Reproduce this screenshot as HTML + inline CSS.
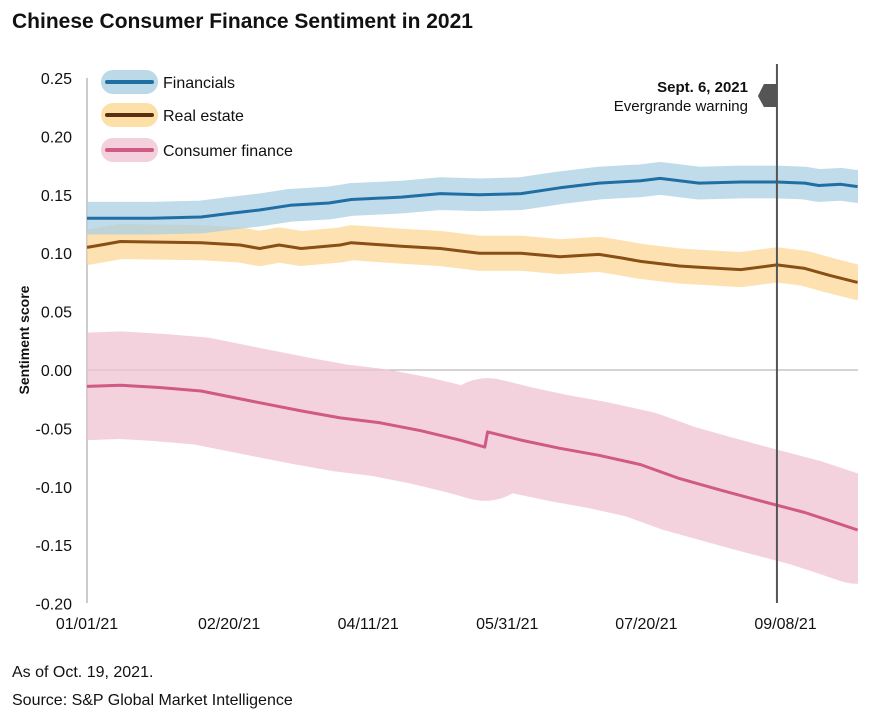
<!DOCTYPE html>
<html><head><meta charset="utf-8"><style>
body{margin:0;background:#fff;font-family:"Liberation Sans",sans-serif}
</style></head><body>
<svg id="c" width="877" height="717" xmlns="http://www.w3.org/2000/svg">
<defs><clipPath id="plotclip"><rect x="87" y="60" width="771" height="560"/></clipPath></defs>
<text x="12" y="28" font-size="21" font-weight="bold" fill="#111">Chinese Consumer Finance Sentiment in 2021</text>
<text x="12" y="677" font-size="16" fill="#111">As of Oct. 19, 2021.</text>
<text x="12" y="705" font-size="16" fill="#111">Source: S&amp;P Global Market Intelligence</text>
<text transform="translate(29,340) rotate(-90)" text-anchor="middle" font-size="14" font-weight="bold" fill="#111">Sentiment score</text>
</svg>
<script>
const yTicks=[0.25,0.20,0.15,0.10,0.05,0.00,-0.05,-0.10,-0.15,-0.20];
const xTickDays=[0,50,100,150,200,250];
const xTickLabels=["01/01/21","02/20/21","04/11/21","05/31/21","07/20/21","09/08/21"];
const finDays=[0,23,41,51,62,73,87,95,113,127,141,156,170,184,199,206,220,235,248,258,263,271,277];
const finVals=[0.130,0.130,0.131,0.134,0.137,0.141,0.143,0.146,0.148,0.151,0.150,0.151,0.156,0.160,0.162,0.164,0.160,0.161,0.161,0.160,0.158,0.159,0.157];
const reDays=[0,5,12,41,55,62,69,77,91,95,113,127,141,156,170,184,192,199,213,220,235,248,258,267,277];
const reVals=[0.105,0.107,0.110,0.109,0.107,0.104,0.107,0.104,0.107,0.109,0.106,0.104,0.100,0.100,0.097,0.099,0.096,0.093,0.089,0.088,0.086,0.090,0.087,0.081,0.075];
const cfDays=[0,12,26,41,62,77,91,105,120,134,143,144,156,170,184,199,213,228,242,258,267,277];
const cfVals=[-0.014,-0.013,-0.015,-0.018,-0.028,-0.035,-0.041,-0.045,-0.052,-0.060,-0.066,-0.053,-0.060,-0.067,-0.073,-0.081,-0.093,-0.103,-0.112,-0.122,-0.129,-0.137];
const finBand=0.014, reBand=0.015, cfBand=0.046;
const eventDay=248;
const NS="http://www.w3.org/2000/svg";
const svg=document.getElementById('c');
const X=d=>87+d*2.782;
const Y=v=>370-v*1168;
function mk(t,a,p){const e=document.createElementNS(NS,t);for(const k in a)e.setAttribute(k,a[k]);(p||svg).appendChild(e);return e;}
yTicks.forEach(v=>{
  const t=mk('text',{x:72,y:Y(v)+6,'text-anchor':'end','font-size':16,fill:'#111'});
  t.textContent=v.toFixed(2);
  
  
});
xTickDays.forEach((d,i)=>{
  const t=mk('text',{x:X(d)+(i?3:0),y:629,'text-anchor':'middle','font-size':16,fill:'#111'});
  t.textContent=xTickLabels[i];
  
  
});
const z=mk('line',{x1:87,x2:858,y1:Y(0),y2:Y(0),stroke:'#aaa','stroke-width':1});


const ax=mk('line',{x1:87,x2:87,y1:78,y2:603,stroke:'#999','stroke-width':1});


function series(days,vals,band,fill,stroke,name){
  const pts=days.map((d,i)=>X(d).toFixed(1)+','+Y(vals[i]).toFixed(1)).join(' ');
  const b=mk('polyline',{points:pts,fill:'none',stroke:fill,'stroke-opacity':0.75,'stroke-width':(2*band*1168).toFixed(1),'stroke-linejoin':'round','stroke-linecap':'round','clip-path':'url(#plotclip)'});
  
  
  const l=mk('polyline',{points:pts,fill:'none',stroke:stroke,'stroke-width':3,'stroke-linejoin':'round'});
  
  
}
series(cfDays,cfVals,cfBand,'#efc3d1','#d05a85','consumer-finance');
series(reDays,reVals,reBand,'#fdd795','#8a4f14','real-estate');
series(finDays,finVals,finBand,'#abcfe3','#1f6fa3','financials');
const ev=mk('line',{x1:X(eventDay),x2:X(eventDay),y1:64,y2:603,stroke:'#555','stroke-width':2});


const ex=X(eventDay);
const m=mk('polygon',{points:`${ex},84 ${ex-13},84 ${ex-19},96 ${ex-13},107 ${ex},107`,fill:'#555'});


const a1=mk('text',{x:748,y:92,'text-anchor':'end','font-size':15,'font-weight':'bold',fill:'#111'});
a1.textContent='Sept. 6, 2021';


const a2=mk('text',{x:748,y:111,'text-anchor':'end','font-size':15,fill:'#111'});
a2.textContent='Evergrande warning';


[['Financials','#bcd9e8','#1f6fa3',82],['Real estate','#fde0a8','#5a3010',115],['Consumer finance','#f3d0dc','#d05a85',150]].forEach(([t,bg,c,y])=>{
  const g=mk('g',{});
  
  
  mk('rect',{x:101,y:y-12,width:57,height:24,rx:12,fill:bg},g);
  mk('line',{x1:107,x2:152,y1:y,y2:y,stroke:c,'stroke-width':4,'stroke-linecap':'round'},g);
  const tx=mk('text',{x:163,y:y+6,'font-size':16,fill:'#111'},g);
  tx.textContent=t;
});
</script>
</body></html>
